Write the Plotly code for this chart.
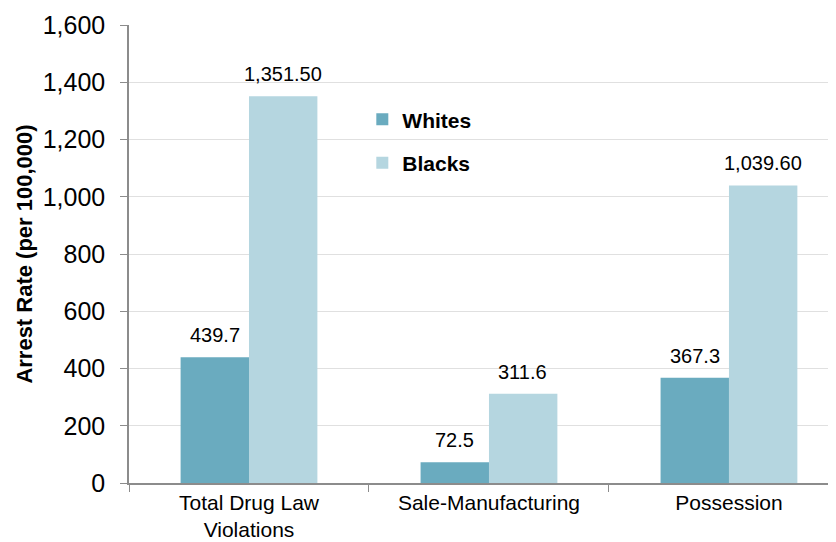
import plotly.graph_objects as go

categories = ["Total Drug Law<br>Violations", "Sale-Manufacturing", "Possession"]
whites = [439.7, 72.5, 367.3]
blacks = [1351.5, 311.6, 1039.6]
whites_labels = ["439.7", "72.5", "367.3"]
blacks_labels = ["1,351.50", "311.6", "1,039.60"]

fig = go.Figure()
fig.add_trace(go.Bar(
    x=categories, y=whites, name="Whites", marker_color="#6AABBF",
    marker_line_width=0, legendgroup="w"))
fig.add_trace(go.Bar(
    x=categories, y=blacks, name="Blacks", marker_color="#B5D6E0",
    marker_line_width=0, legendgroup="b"))

# value labels above bars (offset left/right of category centre for grouped bars)
bar_half = 34
for cat, val, lab in zip(categories, whites, whites_labels):
    fig.add_annotation(x=cat, y=val, text=lab, showarrow=False, xshift=-bar_half,
                       yanchor="bottom", yshift=9, font=dict(size=20, color="#000000"))
for cat, val, lab in zip(categories, blacks, blacks_labels):
    fig.add_annotation(x=cat, y=val, text=lab, showarrow=False, xshift=bar_half,
                       yanchor="bottom", yshift=9, font=dict(size=20, color="#000000"))

fig.update_layout(
    width=828, height=534,
    margin=dict(l=121, r=0, t=17, b=59),
    paper_bgcolor="white", plot_bgcolor="white",
    font=dict(family="Liberation Sans, Arial, sans-serif", color="#000000"),
    barmode="group", bargap=0.43, bargroupgap=0,
    showlegend=True,
    legend=dict(x=0.33, y=0.838, xanchor="left", yanchor="top",
                font=dict(size=21, color="#000000", weight="bold"),
                bgcolor="rgba(0,0,0,0)", tracegroupgap=13,
                itemwidth=30),
    xaxis=dict(
        range=[-0.5, 2.446],
        showline=True, linecolor="#8c8c8c", linewidth=1.5,
        ticks="outside", tickson="boundaries", ticklen=7, tickcolor="#8c8c8c",
        tickfont=dict(size=21), showgrid=False, automargin=False),
    yaxis=dict(
        range=[0, 1600], dtick=200, tickformat=",",
        showline=True, linecolor="#8c8c8c", linewidth=1.5,
        ticks="outside", ticklen=7, tickcolor="#8c8c8c",
        ticklabelstandoff=10,
        showgrid=True, gridcolor="#e0e0e0", gridwidth=1,
        tickfont=dict(size=25),
        title=dict(text="<b>Arrest Rate (per 100,000)</b>", font=dict(size=22), standoff=4),
        zeroline=False, automargin=False),
)
fig.write_html("out.html")
